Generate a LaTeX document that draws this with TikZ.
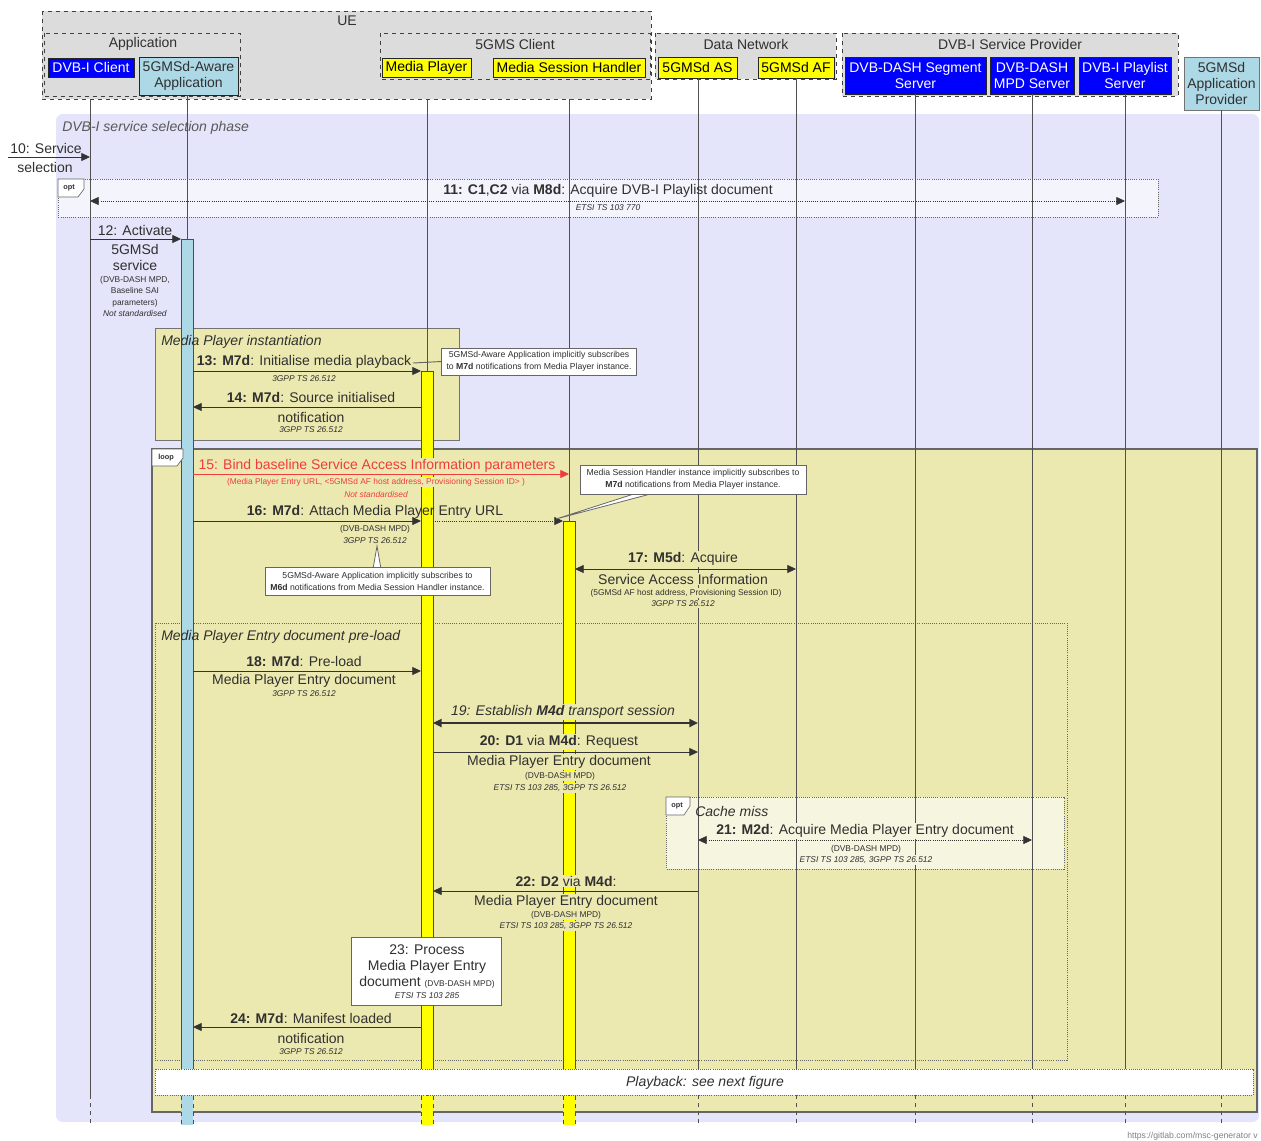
\documentclass[tikz,border=0pt]{standalone}
\usepackage{fontspec}
\setmainfont{Liberation Sans}
\usepackage{tikz}
\usetikzlibrary{arrows.meta,calc,positioning}

\definecolor{grpgray}{HTML}{DCDCDC}
\definecolor{entblue}{HTML}{0000FF}
\definecolor{entlight}{HTML}{ADD8E6}
\definecolor{entyellow}{HTML}{FFFF00}
\definecolor{phasebg}{HTML}{E4E4FA}
\definecolor{khaki}{HTML}{ECE9B0}
\definecolor{cachebg}{HTML}{F6F5E0}
\definecolor{lanegray}{HTML}{505050}
\definecolor{txtgray}{HTML}{303030}
\definecolor{msgred}{HTML}{F03C3C}

\newcommand{\mainsz}{\fontsize{10.5}{12}\selectfont}
\newcommand{\smallsz}{\fontsize{6.3}{8.7}\selectfont}
\newcommand{\notesz}{\fontsize{6.5}{9}\selectfont}
\newcommand{\tagsz}{\fontsize{5.5}{6}\selectfont\bfseries}

\tikzset{
  grp/.style={draw=black!75, dashed, fill=grpgray, line width=0.6pt},
  ent/.style={draw=black!85, line width=0.6pt},
  lane/.style={draw=lanegray, line width=0.7pt},
  msg/.style={draw=black!80, line width=0.6pt, ->},
  bimsg/.style={draw=black!80, line width=0.6pt, <->},
  lbl/.style={inner sep=0pt, font=\mainsz, text=txtgray},
  sublbl/.style={inner sep=0pt, font=\smallsz\itshape, text=txtgray},
  reflbl/.style={inner sep=0pt, font=\smallsz, text=txtgray},
  cover/.style={fill=khaki, inner sep=0.8pt},
  refnote/.style={draw=black!60, fill=white, font=\notesz, align=center, inner sep=2pt, text=txtgray},
  tagbox/.style={draw=black!60, fill=white, line width=0.5pt},
  actbar/.style={draw=black!70, line width=0.5pt},
  fragbox/.style={draw=black!60, densely dotted, line width=0.6pt},
}

\begin{document}
\begin{tikzpicture}[x=0.75pt,y=-0.75pt,>={Triangle[length=6.5pt,width=6pt]}]
\useasboundingbox (0,0) rectangle (1261,1140);

\fill[phasebg, rounded corners=5pt] (56,114) rectangle (1259,1122);
\node[lbl, font=\mainsz\itshape, text=black!65, anchor=west] at (62,128) {DVB-I service selection phase};

\draw[grp] (42,11) rectangle (651,99);
\node[lbl] at (347,21) {UE};
\draw[grp] (44,33) rectangle (240,96);
\node[lbl] at (143,44) {Application};
\draw[ent, fill=entblue] (48,58) rectangle (134,77);
\node[lbl, text=white] (dvbc) at (91,67.5) {DVB-I Client};
\draw[ent, fill=entlight] (139,57) rectangle (238,95);
\node[lbl, align=center] (app) at (188.5,76) {5GMSd-Aware\\Application};
\draw[grp] (380,33) rectangle (650,79);
\node[lbl] at (515,44) {5GMS Client};
\draw[ent, fill=entyellow] (382,58) rectangle (471,77);
\node[lbl, text=black] (mp) at (426.5,67.5) {Media Player};
\draw[ent, fill=entyellow] (493,58) rectangle (645,77);
\node[lbl, text=black] (msh) at (569,67.5) {Media Session Handler};

\draw[grp] (655,33) rectangle (836,79);
\node[lbl] at (746,44) {Data Network};
\draw[ent, fill=entyellow] (658,57) rectangle (737,78);
\node[lbl, text=black] (as) at (697.5,67.5) {5GMSd AS};
\draw[ent, fill=entyellow] (758,57) rectangle (834,78);
\node[lbl, text=black] (af) at (796,67.5) {5GMSd AF};

\draw[grp] (842,33) rectangle (1178,96);
\node[lbl] at (1010,44) {DVB-I Service Provider};
\draw[ent, fill=entblue] (845,57) rectangle (986,94);
\node[lbl, text=white, align=center] (seg) at (915.5,75.5) {DVB-DASH Segment\\Server};
\draw[ent, fill=entblue] (990,57) rectangle (1074,94);
\node[lbl, text=white, align=center] (mpd) at (1032,75.5) {DVB-DASH\\MPD Server};
\draw[ent, fill=entblue] (1079,57) rectangle (1171,94);
\node[lbl, text=white, align=center] (pls) at (1125,75.5) {DVB-I Playlist\\Server};
\draw[ent, draw=black!55, fill=entlight] (1184,57) rectangle (1259,110);
\node[lbl, align=center] (prov) at (1221.5,83.5) {5GMSd\\Application\\Provider};

\draw[fragbox, fill=white, fill opacity=0.6] (58,179) rectangle (1158,217);
\draw[draw=black!55, fill=khaki, line width=0.6pt] (155,328) rectangle (459,440);
\draw[draw=black!60, fill=khaki, line width=0.9pt] (152,449) rectangle (1257,1112);
\draw[fragbox] (155,623) rectangle (1067,1060);
\draw[fragbox, fill=cachebg] (666,797) rectangle (1064,869);

\foreach \n/\x/\t in {DVB/90/99, App/187/95, MP/427/99, MSH/569/99, AS/698/78, AF/796/78, Seg/915/94, MPD/1032/94, Pls/1125/94, Prov/1221/110}{
  \coordinate (ln\n) at (\x,0);
  \coordinate (ln\n L) at ({\x-6},0);
  \coordinate (ln\n R) at ({\x+6},0);
  \draw[lane] (\x,\t) -- (\x,1095);
  \draw[lane, dashed] (\x,1095) -- (\x,1125);
}

\draw[actbar, fill=entlight] (181,239) rectangle (193,1069);
\draw[actbar, fill=entyellow] (421,371) rectangle (433,1069);
\draw[actbar, fill=entyellow] (563,521) rectangle (575,1069);

\draw[fragbox, fill=white] (155,1069) rectangle (1253,1095);
\node[lbl, font=\mainsz\itshape] at (705,1083) {Playback: see next figure};
\foreach \a/\b/\c in {181/193/entlight, 421/433/entyellow, 563/575/entyellow}{
  \fill[\c] (\a,1095.5) rectangle (\b,1125);
  \draw[actbar, dashed] (\a,1095.5) -- (\a,1125) (\b,1095.5) -- (\b,1125);
}

\draw[tagbox] (58,179) -- (84,179) -- (84,189) -- (78,197) -- (58,197) -- cycle;
\node[font=\tagsz, text=txtgray, inner sep=0] at (69,188) {opt};
\draw[tagbox] (152,449) -- (183,449) -- (183,458) -- (177,466) -- (152,466) -- cycle;
\node[font=\tagsz, text=txtgray, inner sep=0] at (166,457.5) {loop};
\draw[tagbox] (666,797) -- (690,797) -- (690,806) -- (684,815) -- (666,815) -- cycle;
\node[font=\tagsz, text=txtgray, inner sep=0] at (677,806) {opt};
\node[lbl, font=\mainsz\itshape, anchor=west] at (695,811) {Cache miss};
\node[lbl, font=\mainsz\itshape, anchor=west] at (161,342) {Media Player instantiation};
\node[lbl, font=\mainsz\itshape, anchor=west] at (161,637) {Media Player Entry document pre-load};

\coordinate (src10) at (8,157);
\draw[msg] (src10) -- (lnDVB |- src10);
\node[lbl] at (46,148) {10: Service};
\node[lbl] at (45,167) {selection};

\draw[bimsg, densely dotted] (lnDVB |- 0,201) -- (lnPls |- 0,201);
\node[lbl] at (608,191) {\textbf{11: C1},\textbf{C2} via \textbf{M8d}: Acquire DVB-I Playlist document};
\node[sublbl] at (608,208) {ETSI TS 103 770};

\draw[msg] (lnDVB |- 0,239) -- (lnAppL |- 0,239);
\node[lbl] at (135,230) {12: Activate};
\node[lbl, align=center] at (135,257) {5GMSd\\service};
\node[reflbl, align=center] at (135,296.5) {(DVB-DASH MPD,\\Baseline SAI\\parameters)\\\textit{Not standardised}};

\draw[msg] (lnAppR |- 0,371) -- (lnMPL |- 0,371);
\node[lbl] at (304,362) {\textbf{13: M7d}: Initialise media playback};
\node[sublbl] at (304,379) {3GPP TS 26.512};
\node[refnote, minimum width=146pt, minimum height=20pt] (n13) at (539,361.5) {5GMSd-Aware Application implicitly subscribes\\to \textbf{M7d} notifications from Media Player instance.};
\draw[draw=black!60, line width=0.7pt] (n13.west) -- (413,363);

\draw[msg] (lnMPL |- 0,407) -- (lnAppR |- 0,407);
\node[lbl] at (311,397) {\textbf{14: M7d}: Source initialised};
\node[lbl] at (311,417) {notification};
\node[sublbl] at (311,430) {3GPP TS 26.512};

\draw[msg, draw=msgred] (lnAppR |- 0,474) -- (lnMSH |- 0,474);
\node[lbl, cover, text=msgred] at (377,466) {15: Bind baseline Service Access Information parameters};
\node[reflbl, cover, text=msgred] at (376,482) {(Media Player Entry URL, <5GMSd AF host address, Provisioning Session ID> )};
\node[sublbl, text=msgred] at (376,494) {Not standardised};

\draw[msg] (lnAppR |- 0,521) -- (lnMPL |- 0,521);
\draw[msg, densely dotted] (lnMPR |- 0,521) -- (lnMSHL |- 0,521);
\node[lbl] at (375,512) {\textbf{16: M7d}: Attach Media Player Entry URL};
\node[reflbl] at (375,529) {(DVB-DASH MPD)};
\node[sublbl] at (375,541) {3GPP TS 26.512};

\coordinate (tipMSH) at (556,519);
\coordinate (tipApp) at (377,546);
\filldraw[draw=black!60, fill=white, line width=0.6pt] (640,492) -- (tipMSH) -- (658,492) -- cycle;
\node[refnote, minimum width=169.5pt, minimum height=21.75pt] (nMSH) at (693,479.5) {Media Session Handler instance implicitly subscribes to\\\textbf{M7d} notifications from Media Player instance.};
\filldraw[draw=black!60, fill=white, line width=0.6pt] (373,569) -- (tipApp) -- (381,569) -- cycle;
\node[refnote, minimum width=169pt, minimum height=21pt] (nApp) at (377.5,581) {5GMSd-Aware Application implicitly subscribes to\\\textbf{M6d} notifications from Media Session Handler instance.};

\draw[bimsg] (lnMSHR |- 0,569) -- (lnAF |- 0,569);
\node[lbl, cover] at (683,559) {\textbf{17: M5d}: Acquire};
\node[lbl, cover] at (683,579) {Service Access Information};
\node[reflbl, cover] at (686,593) {(5GMSd AF host address, Provisioning Session ID)};
\node[sublbl, cover] at (683,604) {3GPP TS 26.512};

\draw[msg] (lnAppR |- 0,671) -- (lnMPL |- 0,671);
\node[lbl] at (304,661) {\textbf{18: M7d}: Pre-load};
\node[lbl] at (304,681) {Media Player Entry document};
\node[sublbl] at (304,694) {3GPP TS 26.512};

\draw[bimsg, line width=1.6pt] (lnMPR |- 0,723) -- (lnAS |- 0,723);
\node[lbl, cover, font=\mainsz\itshape] at (563,712) {19: Establish \textbf{M4d} transport session};

\draw[msg] (lnMPR |- 0,752) -- (lnAS |- 0,752);
\node[lbl, cover] at (559,742) {\textbf{20: D1} via \textbf{M4d}: Request};
\node[lbl, cover] at (559,762) {Media Player Entry document};
\node[reflbl, cover] at (560,776) {(DVB-DASH MPD)};
\node[sublbl, cover] at (560,788) {ETSI TS 103 285, 3GPP TS 26.512};

\draw[bimsg, densely dotted] (lnAS |- 0,840) -- (lnMPD |- 0,840);
\node[lbl, cover, fill=cachebg] at (865,831) {\textbf{21: M2d}: Acquire Media Player Entry document};
\node[reflbl] at (866,849) {(DVB-DASH MPD)};
\node[sublbl, cover, fill=cachebg] at (866,860) {ETSI TS 103 285, 3GPP TS 26.512};

\draw[msg] (lnAS |- 0,891) -- (lnMPR |- 0,891);
\node[lbl, cover] at (566,881) {\textbf{22: D2} via \textbf{M4d}:};
\node[lbl, cover] at (566,902) {Media Player Entry document};
\node[reflbl, cover] at (566,915) {(DVB-DASH MPD)};
\node[sublbl, cover] at (566,926) {ETSI TS 103 285, 3GPP TS 26.512};

\node[draw=black!60, fill=white, line width=0.6pt, minimum width=113pt, minimum height=51pt, inner sep=0pt] (proc) at (426.5,971) {};
\node[lbl, align=center] at (427,966) {23: Process\\Media Player Entry\\document {\smallsz(DVB-DASH MPD)}};
\node[sublbl] at (427,996) {ETSI TS 103 285};

\draw[msg] (lnMPL |- 0,1027) -- (lnAppR |- 0,1027);
\node[lbl] at (311,1018) {\textbf{24: M7d}: Manifest loaded};
\node[lbl] at (311,1038) {notification};
\node[sublbl] at (311,1052) {3GPP TS 26.512};

\node[anchor=west, inner sep=0pt, font=\fontsize{6.5}{7}\selectfont, text=black!50] at (1127,1136) {https://gitlab.com/msc-generator v};
\end{tikzpicture}
\end{document}
